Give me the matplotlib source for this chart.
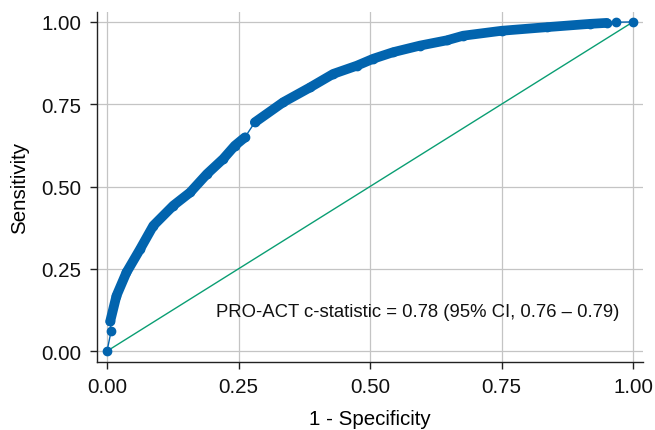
import numpy as np
import matplotlib
matplotlib.use('Agg')
import matplotlib.pyplot as plt

plt.rcParams['font.family'] = ['Liberation Sans', 'DejaVu Sans']

# ROC curve points (1 - specificity, sensitivity)
fpr = [0.000, 0.008, 0.006, 0.018, 0.037, 0.063, 0.088, 0.126, 0.158, 0.190,
       0.221, 0.243, 0.262,
       0.281, 0.335, 0.386, 0.430, 0.475, 0.506, 0.544, 0.595, 0.646,
       0.677, 0.750, 0.836, 0.918, 0.950, 0.968, 1.000]
tpr = [0.000, 0.062, 0.090, 0.168, 0.239, 0.310, 0.381, 0.442, 0.482, 0.538,
       0.584, 0.624, 0.649,
       0.695, 0.756, 0.801, 0.842, 0.867, 0.888, 0.908, 0.928, 0.944,
       0.958, 0.973, 0.984, 0.994, 0.997, 0.999, 1.000]

# dense stretches of the curve (index ranges), split where thresholds thin out
dense = [(2, 13), (13, 27)]

c_stat = 0.78
ci_lo, ci_hi = 0.76, 0.79

blue = '#0264AE'
green = '#0A9E73'

fig = plt.figure(figsize=(6.55, 4.31), dpi=100)
ax = fig.add_axes([0.1481, 0.1578, 0.8336, 0.812])

ax.plot([0, 1], [0, 1], color=green, lw=1.0, zorder=2)
ax.plot(fpr, tpr, '-o', color=blue, lw=1.0, ms=6, zorder=3)
for a, b in dense:
    ax.plot(fpr[a:b], tpr[a:b], color=blue, lw=7, solid_capstyle='round',
            solid_joinstyle='round', zorder=3)

ax.text(0.207, 0.12, f'PRO-ACT c-statistic = {c_stat:.2f} (95% CI, {ci_lo:.2f} \u2013 {ci_hi:.2f})',
        fontsize=13.3, va='center', ha='left', color='#111111')

ticks = [0, 0.25, 0.5, 0.75, 1]
ax.set_xticks(ticks)
ax.set_yticks(ticks)
ax.set_xticklabels([f'{t:.2f}' for t in ticks])
ax.set_yticklabels([f'{t:.2f}' for t in ticks])
ax.set_xlim(-0.019, 1.019)
ax.set_ylim(-0.033, 1.030)

ax.grid(True, color='#c4c4c4', lw=0.9)
ax.set_axisbelow(True)
for s in ['top', 'right']:
    ax.spines[s].set_visible(False)
for s in ['left', 'bottom']:
    ax.spines[s].set_color('#222222')
    ax.spines[s].set_linewidth(1.0)
ax.tick_params(direction='out', length=5, width=1, colors='#222222',
               labelsize=14.8, labelcolor='#111111', pad=6)

ax.set_xlabel('1 - Specificity', fontsize=14.8, labelpad=9)
ax.set_ylabel('Sensitivity', fontsize=14.8, labelpad=9)

plt.savefig('out.png', dpi=100)
